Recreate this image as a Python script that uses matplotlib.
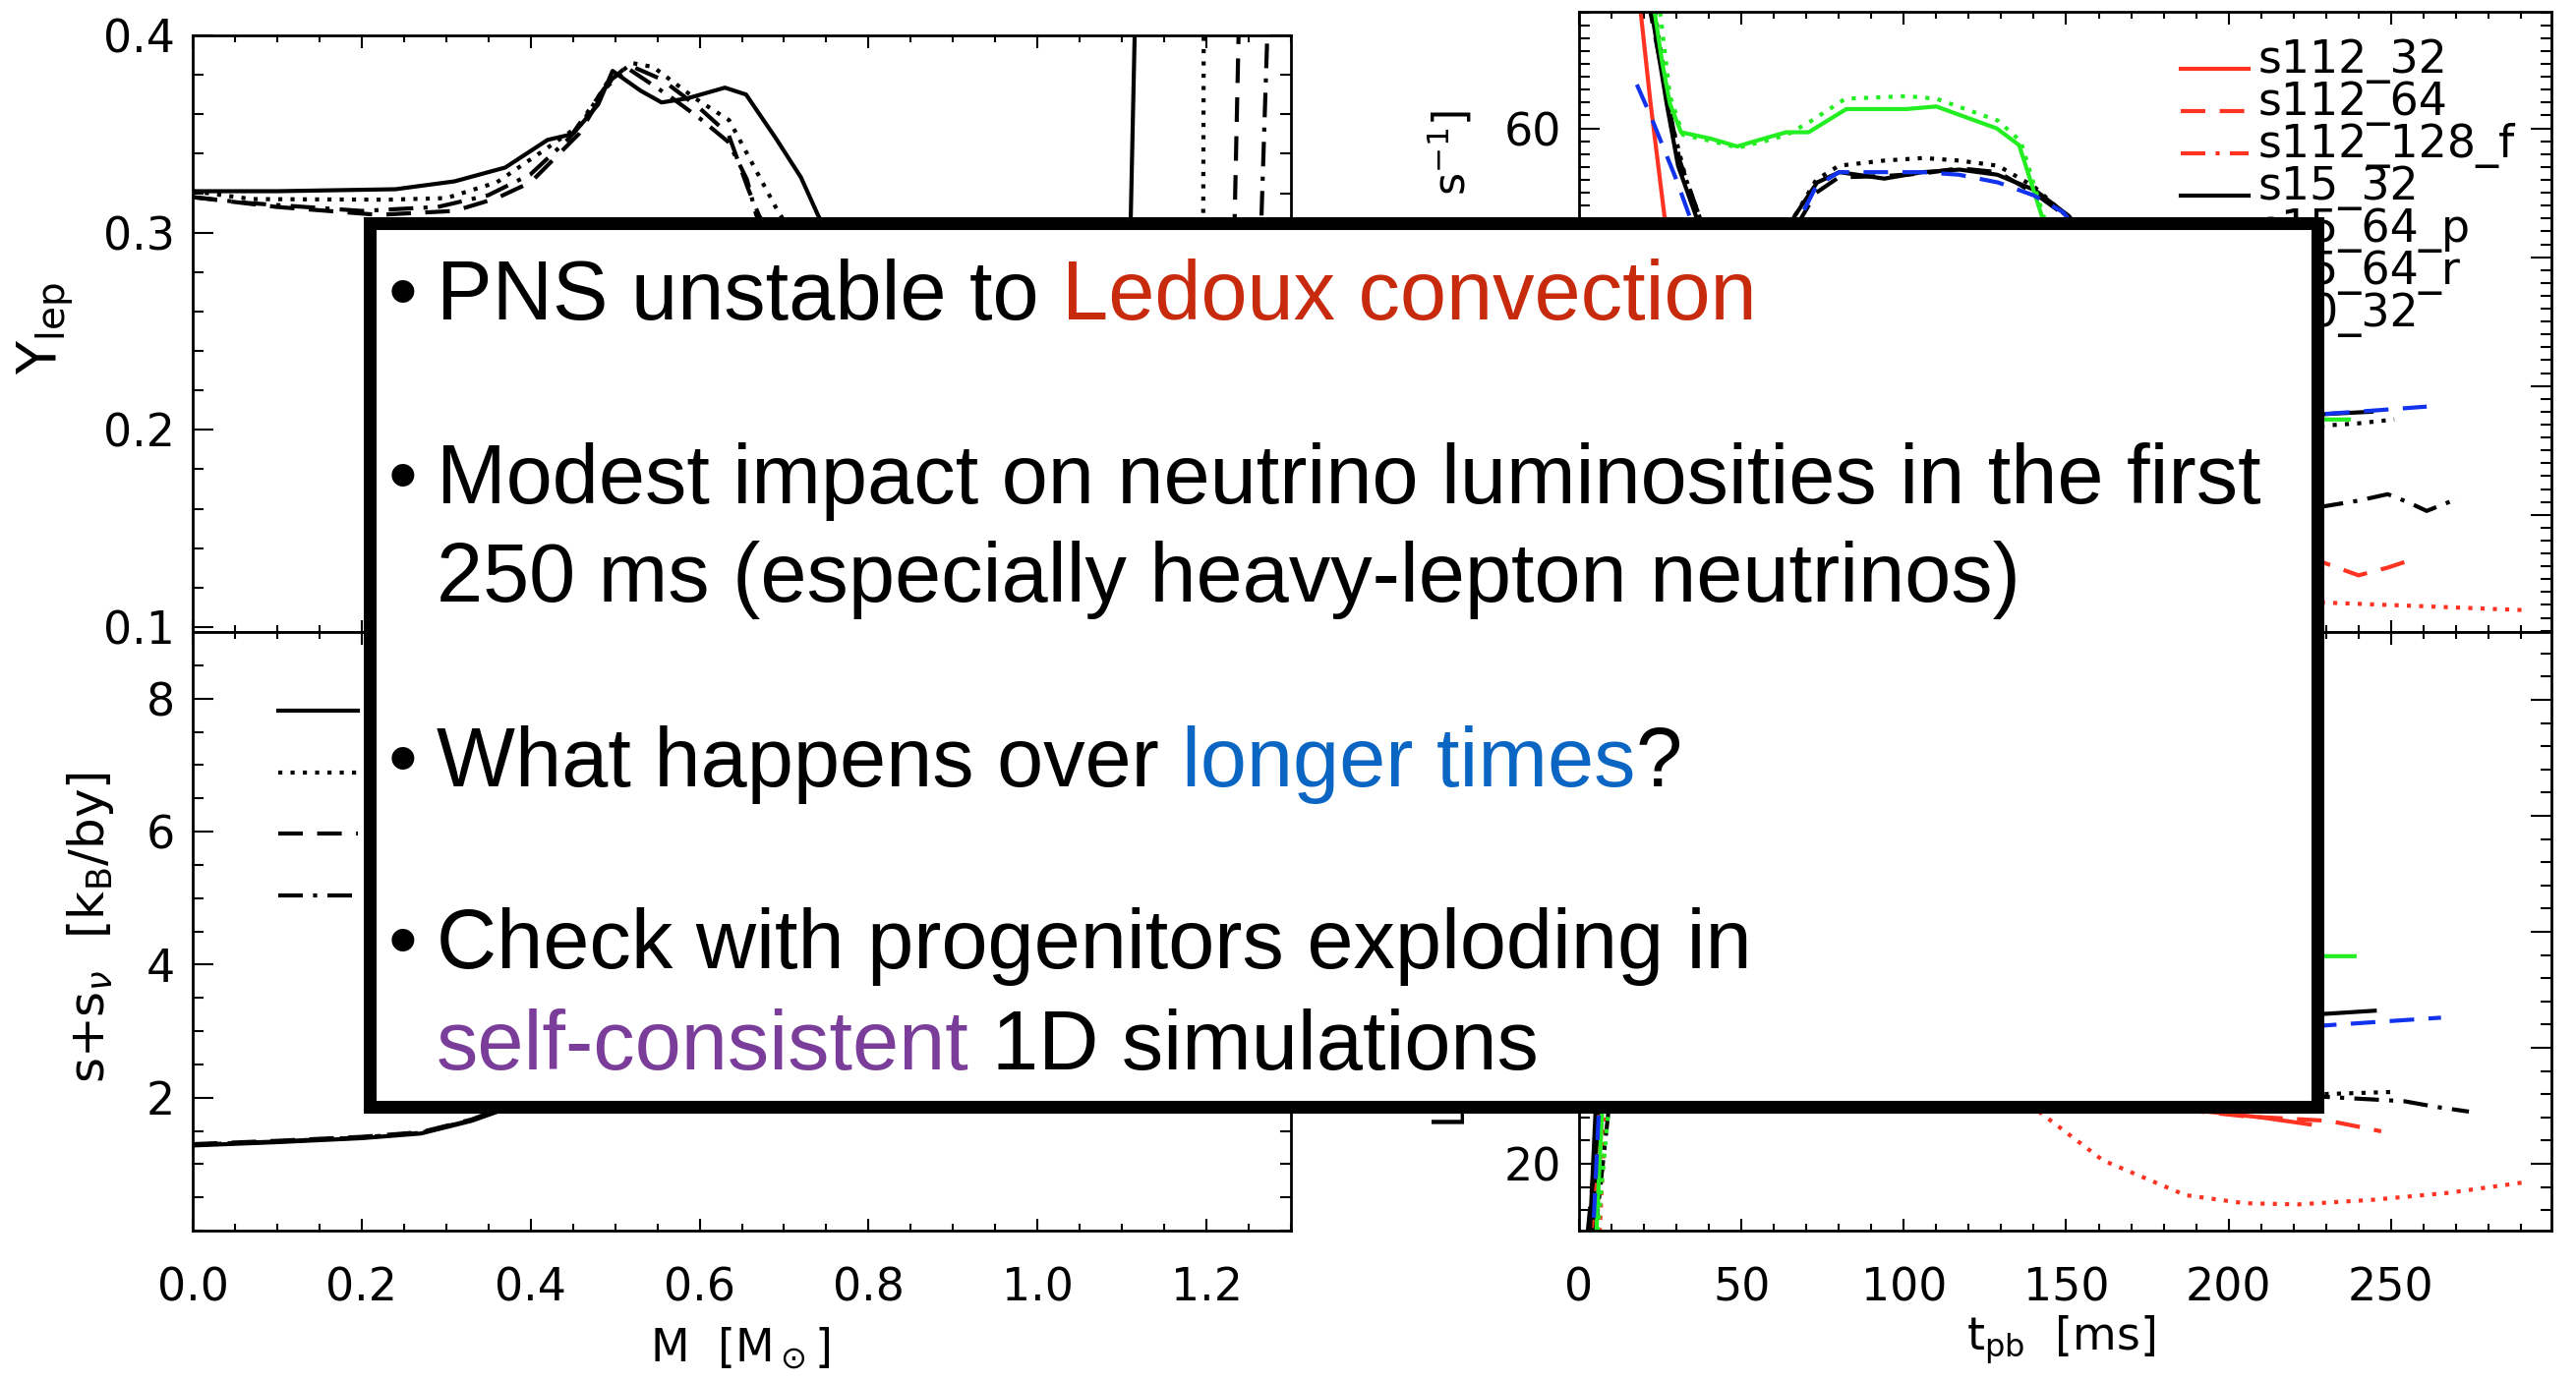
import numpy as np
import matplotlib
matplotlib.use("Agg")
import matplotlib.pyplot as plt
from matplotlib.legend_handler import HandlerLine2D
from matplotlib.lines import Line2D
from matplotlib.patches import Rectangle
from matplotlib.ticker import MultipleLocator

W, H, DPI = 2620, 1405, 100

# ---- left column: lepton fraction and entropy profiles vs enclosed mass
model_names = ["s15_32", "s15_64_p", "s15_64_r", "s20_32"]

ylep_m = [
    [0, 0.10, 0.24, 0.31, 0.37, 0.42, 0.45, 0.48, 0.497, 0.53, 0.555, 0.585,
     0.63, 0.655, 0.69, 0.72, 0.74, 0.80, 0.90, 1.00, 1.08, 1.105, 1.109, 1.117],
    [0, 0.07, 0.23, 0.30, 0.36, 0.42, 0.46, 0.49, 0.52, 0.545, 0.595, 0.635,
     0.66, 0.69, 0.75, 0.85, 0.95, 1.05, 1.15, 1.19, 1.196, 1.197],
    [0, 0.10, 0.22, 0.31, 0.36, 0.40, 0.457, 0.496, 0.516, 0.555, 0.60, 0.634,
     0.657, 0.67, 0.72, 0.82, 0.92, 1.02, 1.12, 1.225, 1.232, 1.240],
    [0, 0.066, 0.20, 0.29, 0.35, 0.40, 0.446, 0.487, 0.516, 0.565, 0.60, 0.634,
     0.656, 0.667, 0.72, 0.82, 0.92, 1.02, 1.12, 1.22, 1.258, 1.263, 1.275],
]
ylep_val = [
    [0.321, 0.321, 0.322, 0.326, 0.333, 0.347, 0.350, 0.365, 0.382, 0.372, 0.366, 0.368,
     0.3735, 0.370, 0.348, 0.328, 0.309, 0.26, 0.20, 0.16, 0.14, 0.15, 0.28, 0.44],
    [0.321, 0.317, 0.3167, 0.3175, 0.3255, 0.343, 0.355, 0.3757, 0.386, 0.384, 0.368, 0.357,
     0.337, 0.313, 0.27, 0.21, 0.17, 0.15, 0.14, 0.15, 0.28, 0.44],
    [0.318, 0.313, 0.309, 0.311, 0.3175, 0.3255, 0.350, 0.3777, 0.385, 0.3777, 0.3631, 0.350,
     0.3227, 0.309, 0.27, 0.21, 0.17, 0.15, 0.14, 0.14, 0.28, 0.44],
    [0.318, 0.315, 0.311, 0.313, 0.319, 0.3296, 0.348, 0.373, 0.383, 0.369, 0.358, 0.346,
     0.327, 0.309, 0.27, 0.21, 0.17, 0.15, 0.14, 0.14, 0.14, 0.28, 0.44],
]

entropy_m = [0, 0.1, 0.2, 0.27, 0.33, 0.37, 0.42, 0.5, 0.6, 0.7, 0.8, 0.9, 1.0, 1.1, 1.2, 1.3]
entropy_val = [
    [1.28, 1.33, 1.39, 1.46, 1.65, 1.83, 2.3, 3.2, 4.3, 5.0, 5.5, 6.0, 6.5, 7.0, 7.5, 8.0],
    [1.29, 1.34, 1.40, 1.47, 1.66, 1.85, 2.3, 3.1, 4.2, 4.9, 5.4, 5.9, 6.4, 6.9, 7.4, 7.9],
    [1.30, 1.35, 1.41, 1.48, 1.67, 1.86, 2.4, 3.3, 4.4, 5.1, 5.6, 6.1, 6.6, 7.1, 7.6, 8.1],
    [1.29, 1.34, 1.40, 1.47, 1.66, 1.84, 2.3, 3.2, 4.3, 5.0, 5.5, 6.0, 6.5, 7.0, 7.5, 8.0],
]

# ---- right column: luminosities vs post-bounce time
# top panel
lum_top = {
    "s112_32":    ([17, 19, 22, 26.3, 35, 50, 80, 110, 140, 170, 200, 215],
                   [75, 69, 62, 53.2, 45, 42, 41, 40, 36, 32, 29, 27]),
    "s112_64":    ([20, 40, 80, 120, 160, 200, 228, 240, 249, 255],
                   [50, 44, 40, 37, 33, 29, 26.4, 25.3, 25.9, 26.4]),
    "s112_128_f": ([20, 50, 100, 150, 200, 228, 260, 291],
                   [48, 40, 36, 30, 25, 23.2, 22.9, 22.6]),
    "s15_32":     ([18, 22.4, 27, 30.5, 36, 45, 55, 66.4, 73.3, 80.2, 94, 105.7, 117.2,
                    128.8, 140.4, 150.8, 170, 200, 228, 244],
                   [78, 69, 61.9, 57.1, 53.2, 48, 47, 53.2, 55.8, 56.6, 56.1, 56.6, 56.8,
                    56.4, 55.2, 53.2, 47, 41, 37.8, 38.0]),
    "s15_64_p":   ([20, 24, 28, 33, 38, 45, 55, 66, 73, 80, 94, 106, 117, 129, 140, 151,
                    170, 200, 228, 240, 251],
                   [75, 68, 61, 56, 52.5, 48, 47, 53, 56, 57.1, 57.5, 57.7, 57.5, 57.1, 55.5,
                    53, 46, 40, 36.9, 37.1, 37.4]),
    "s15_64_r":   ([18, 22, 27, 31, 37, 45, 55, 66, 73, 80, 94, 106, 117, 129, 140, 151,
                    170, 200, 220],
                   [78, 69, 62.5, 57.5, 53.2, 48, 46, 52, 55.0, 56.2, 56.3, 56.5, 56.9, 56.6,
                    55.0, 53.0, 47, 41, 39]),
    "s20_32":     ([20, 40, 80, 120, 160, 200, 228, 240, 249, 255, 261, 266, 271],
                   [50, 44, 42, 40, 36, 32, 30.6, 31.1, 31.6, 31.0, 30.3, 30.8, 31.3]),
    "s25_32":     ([20, 23.3, 25.6, 28, 31.4, 40.6, 48.7, 56.8, 63.8, 70.7, 82.3, 100.8,
                    110, 128.6, 135.5, 142.5, 160, 200, 228, 237],
                   [80, 69, 65.1, 61.9, 59.7, 59.2, 58.6, 59.2, 59.7, 59.7, 61.5, 61.5,
                    61.7, 60.0, 58.7, 53.2, 45, 39, 37.4, 37.4]),
    "s25_64_p":   ([25, 28, 32, 41, 49, 57, 64, 71, 82, 101, 110, 129, 136, 143, 160, 200, 229],
                   [69, 62.5, 59.5, 59.0, 58.5, 59.0, 59.5, 60.5, 62.3, 62.5, 62.3, 60.6,
                    59.0, 53.2, 45, 38, 35.9]),
    "s27_64_r":   ([17.8, 22, 26, 30, 34, 45, 55, 66, 73, 80, 94, 106, 117, 129, 140, 149,
                    170, 200, 228, 245, 261],
                   [63.4, 61, 58.5, 56, 53.2, 48, 47, 52, 55.5, 56.6, 56.6, 56.6, 56.4, 55.8,
                    54.8, 53.5, 47, 41, 37.8, 38.1, 38.4]),
}

# bottom panel
lum_bot = {
    "s112_32":    ([4, 7, 15, 50, 100, 150, 190, 210, 225],
                   [12, 30, 44, 38, 32, 27, 24.6, 24.0, 23.4]),
    "s112_64":    ([5, 8, 15, 50, 100, 150, 191.4, 205, 231, 240, 247],
                   [12, 30, 44, 38, 32, 27, 24.5, 24.1, 23.7, 23.2, 22.8]),
    "s112_128_f": ([6, 9, 15, 40, 80, 120, 141.6, 161.3, 186.7, 205, 221.4, 244.6, 267.8, 290.9],
                   [12, 30, 45, 40, 33, 27, 24.5, 20.3, 17.3, 16.6, 16.5, 16.9, 17.5, 18.4]),
    "s15_32":     ([3, 6, 15, 50, 100, 150, 200, 228, 245],
                   [12, 30, 46, 42, 38, 35, 33.5, 32.9, 33.2]),
    "s15_64_p":   ([4, 7.5, 15, 50, 100, 150, 200, 228, 251],
                   [12, 30, 44, 40, 34, 29, 27, 26.0, 26.2]),
    "s15_64_r":   ([2.7, 6.2, 15, 50, 100, 150, 200, 220],
                   [14.2, 24.1, 45, 42, 38, 35, 33, 32]),
    "s20_32":     ([5, 8.9, 15, 50, 100, 150, 200, 228, 254, 264, 274],
                   [14, 24.1, 42, 38, 33, 29, 27, 25.8, 25.4, 24.9, 24.5]),
    "s25_32":     ([5, 8, 15, 50, 100, 150, 200, 228, 238.8],
                   [12, 30, 48, 45, 42, 40, 38.5, 37.9, 37.9]),
    "s25_64_p":   ([5.7, 8.9, 15, 50, 100, 150, 200, 228],
                   [14.2, 24.1, 47, 44, 40, 35, 31, 29]),
    "s27_64_r":   ([4, 7, 15, 50, 100, 150, 200, 228, 265.4],
                   [12, 30, 45, 41, 37, 34, 32.5, 31.9, 32.6]),
}

legend_models = ["s112_32", "s112_64", "s112_128_f", "s15_32", "s15_64_p", "s15_64_r", "s20_32"]

RED, GREEN, BLUE = "#ff3322", "#22ee22", "#1133ee"
DOT = (0, (1, 2))
DASH = (0, (6, 3.5))
DASHDOT = (0, (6, 2.5, 1, 2.5))
line_style = {
    "s112_32": (RED, "-"), "s112_64": (RED, DASH), "s112_128_f": (RED, DOT),
    "s15_32": ("k", "-"), "s15_64_p": ("k", DOT), "s15_64_r": ("k", DASH),
    "s20_32": ("k", DASHDOT), "s25_32": (GREEN, "-"), "s25_64_p": (GREEN, DOT),
    "s27_64_r": (BLUE, DASH),
}
left_styles = ["-", DOT, DASH, DASHDOT]

bullets = [
    (325, [("PNS unstable to", "black"), ("Ledoux convection", "#c72a0c")]),
    (512, [("Modest impact on neutrino luminosities in the first", "black")]),
    (612, [("250 ms (especially heavy-lepton neutrinos)", "black")]),
    (800, [("What happens over", "black"), ("longer times", "#0a66c2"), ("?", "black", False)]),
    (985, [("Check with progenitors exploding in", "black")]),
    (1088, [("self-consistent", "#7a3e9a"), ("1D simulations", "black")]),
]
bullet_rows = [325, 512, 800, 985]

TICK_SIZE = 33
LW = 3.0


class BaselineLine(HandlerLine2D):
    """Legend key drawn near the text baseline instead of mid-height."""

    def create_artists(self, legend, orig_handle, xdescent, ydescent, width, height,
                       fontsize, trans):
        arts = super().create_artists(legend, orig_handle, xdescent, ydescent, width,
                                      height, fontsize, trans)
        for a in arts:
            a.set_ydata(np.asarray(a.get_ydata()) - 0.25 * fontsize)
        return arts


def px_axes(x0, y0, x1, y1):
    return fig.add_axes([x0 / W, 1 - y1 / H, (x1 - x0) / W, (y1 - y0) / H])


def style(ax, xmaj, xmin, ymaj, ymin):
    ax.xaxis.set_major_locator(MultipleLocator(xmaj))
    ax.xaxis.set_minor_locator(MultipleLocator(xmin))
    ax.yaxis.set_major_locator(MultipleLocator(ymaj))
    ax.yaxis.set_minor_locator(MultipleLocator(ymin))
    ax.tick_params(which="both", direction="in", top=True, right=True, width=1.5,
                   labelsize=TICK_SIZE)
    ax.tick_params(axis="y", which="major", length=15, pad=13)
    ax.tick_params(axis="y", which="minor", length=8)
    ax.tick_params(axis="x", which="major", length=9, pad=26)
    ax.tick_params(axis="x", which="minor", length=5)
    for sp in ax.spines.values():
        sp.set_linewidth(2)


fig = plt.figure(figsize=(W / DPI, H / DPI), dpi=DPI)

# left column
ax_y = px_axes(196, 36, 1313, 643)
ax_s = px_axes(196, 643, 1313, 1252)
for m, y, ls in zip(ylep_m, ylep_val, left_styles):
    ax_y.plot(m, y, color="k", ls=ls, lw=LW)
for s, ls, name in zip(entropy_val, left_styles, model_names):
    ax_s.plot(entropy_m, s, color="k", ls=ls, lw=LW, label=name)
ax_y.set_xlim(0, 1.3)
ax_y.set_ylim(0.0975, 0.4)
ax_s.set_xlim(0, 1.3)
ax_s.set_ylim(0, 9)
style(ax_y, 0.2, 0.05, 0.1, 0.02)
style(ax_s, 0.2, 0.05, 2, 0.5)
ax_y.tick_params(labelbottom=False)
ax_s.set_yticks([2, 4, 6, 8])
ax_y.set_ylabel(r"Y$_{\rm lep}$", fontsize=40)
ax_y.yaxis.set_label_coords(-0.107, 0.509)
ax_s.set_ylabel(r"s+s$_\nu$  [k$_{\rm B}$/by]", fontsize=36)
ax_s.yaxis.set_label_coords(-0.070, 0.506)
ax_s.set_xlabel(r"M  [M$_\odot$]", fontsize=33)
ax_s.xaxis.set_label_coords(0.498, -0.159)
ax_s.legend(loc="upper left", bbox_to_anchor=(0.078, 0.899), frameon=False,
            fontsize=30, handlelength=1.94, handletextpad=0.3, labelspacing=0.47,
            borderpad=0, borderaxespad=0)

# right column
ax_t = px_axes(1606, 12, 2595, 643)
ax_b = px_axes(1606, 643, 2595, 1252)
for name, (t, L) in lum_top.items():
    c, ls = line_style[name]
    ax_t.plot(t, L, color=c, ls=ls, lw=LW)
for name, (t, L) in lum_bot.items():
    c, ls = line_style[name]
    ax_b.plot(t, L, color=c, ls=ls, lw=LW)
for ax in (ax_t, ax_b):
    ax.set_xlim(0, 299.4)
ax_t.set_ylim(20.9, 69.05)
ax_b.set_ylim(14.24, 65.85)
style(ax_t, 50, 10, 10, 1)
style(ax_b, 50, 10, 10, 2)
ax_t.tick_params(labelbottom=False)
ax_b.set_xlabel(r"t$_{\rm pb}$  [ms]", fontsize=33)
ax_b.xaxis.set_label_coords(0.496, -0.138)
fig.text(1477 / W, 1 - 630 / H,
         r"L$_{\nu_e}$, L$_{\bar\nu_e}$  (top),   4 L$_{\nu_x}$  (bottom)   "
         r"[10$^{51}$ erg   s$^{-1}$]",
         rotation=90, ha="center", va="center", fontsize=32)

leg_handles = [Line2D([], [], color=line_style[n][0],
                      ls=DASHDOT if n == "s112_128_f" else line_style[n][1], lw=LW)
               for n in legend_models]
ax_t.legend(leg_handles, legend_models, loc="upper left", bbox_to_anchor=(0.619, 0.957),
            frameon=False, prop=dict(family="DejaVu Sans", size=33), handlelength=1.5,
            handletextpad=0.22, labelspacing=-0.065, borderpad=0, borderaxespad=0,
            handler_map={Line2D: BaselineLine()})

# summary box drawn over the panels
box = Rectangle((375.5 / W, 1 - 1125.5 / H), (2356.5 - 375.5) / W, (1125.5 - 226.5) / H,
                transform=fig.transFigure, facecolor="white", edgecolor="black",
                linewidth=9.4, zorder=5)
fig.add_artist(box)

renderer = fig.canvas.get_renderer()
text_kw = dict(family="Liberation Sans", size=61, va="baseline", ha="left", zorder=6)


def width_of(s):
    t = fig.text(0, 0, s, **text_kw)
    w = t.get_window_extent(renderer).width
    t.remove()
    return w


space_w = width_of("n n") - width_of("nn")
for base, parts in bullets:
    x = 444.0
    for i, part in enumerate(parts):
        txt, col = part[0], part[1]
        gap = part[2] if len(part) > 2 else True
        if i > 0 and gap:
            x += space_w
        t = fig.text(x / W, 1 - base / H, txt, color=col, **text_kw)
        x += t.get_window_extent(renderer).width
for base in bullet_rows:
    fig.text(395 / W, 1 - base / H, "\u2022", **text_kw)

fig.savefig("out.png", dpi=DPI)
